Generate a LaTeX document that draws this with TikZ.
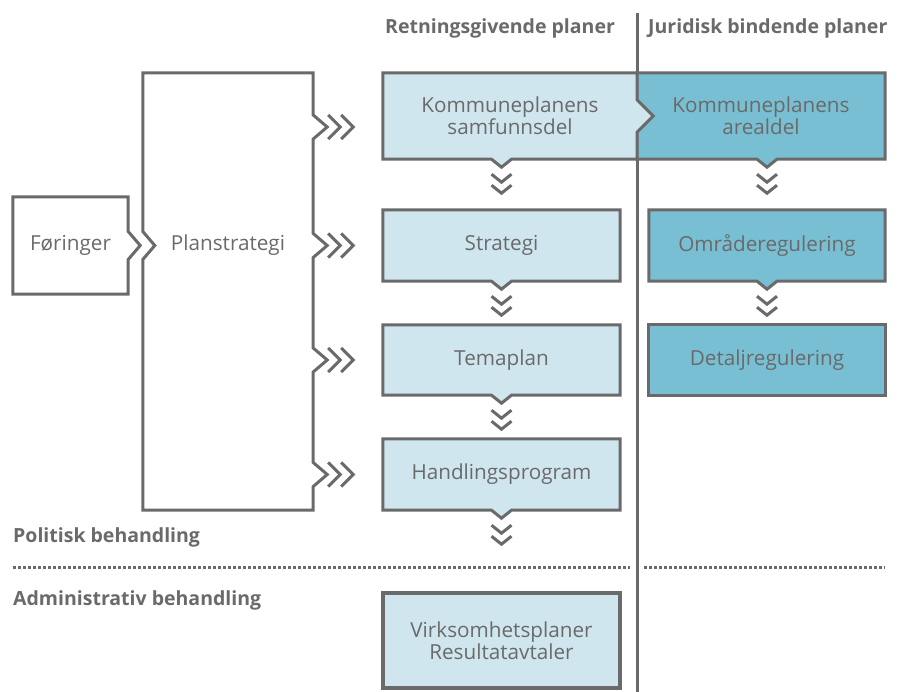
\documentclass[tikz,border=0pt]{standalone}
\usepackage{fontspec}
\setmainfont{Open Sans}
\usetikzlibrary{calc,backgrounds}
\definecolor{gris}{HTML}{6A6A6A}
\definecolor{tekst}{HTML}{6A6A6A}
\definecolor{lys}{HTML}{CFE6EE}
\definecolor{mork}{HTML}{78BFD3}

\tikzset{
  boks/.style={inner sep=0pt, minimum width=237pt, minimum height=71pt,
    align=center, text=tekst, font=\fontsize{20.7}{22}\selectfont},
  overskrift/.style={inner sep=0pt, text=tekst,
    font=\fontsize{19.5}{22}\selectfont\bfseries},
  kant/.style={draw=gris, line width=3pt},
  pil/.style={draw=gris, line width=3pt},
  prikk/.style={draw=gris, line width=3pt, dash pattern=on 3pt off 2pt}
}

% Boks med spiss nederst.
\newcommand{\vboks}[2]{%
  \draw[kant, fill=#2] (#1.north west) -- (#1.north east) -- (#1.south east)
    -- ([xshift=10pt]#1.south) -- ([yshift=-8pt]#1.south)
    -- ([xshift=-10pt]#1.south) -- (#1.south west) -- cycle;}
% Piler.
\newcommand{\hoyrepil}[1]{%
  \foreach \d in {15,28}
    \draw[pil] ([xshift=\d pt, yshift=12pt]#1) -- ([xshift=\d pt+12pt]#1)
      -- ([xshift=\d pt, yshift=-12pt]#1);}
\newcommand{\nedpil}[1]{%
  \foreach \d in {15,26}
    \draw[pil] ([xshift=-10pt, yshift=-\d pt]#1) -- ([yshift=-\d pt-8pt]#1)
      -- ([xshift=10pt, yshift=-\d pt]#1);}

\begin{document}
\begin{tikzpicture}[x=1pt, y=-1pt]
  \useasboundingbox (0,0) rectangle (898,692);

  % Overskrifter.
  \node[overskrift, anchor=west] (retning) at (385,28) {Retningsgivende planer};
  \node[overskrift, anchor=west] (juridisk) at (648,28) {Juridisk bindende planer};
  \node[overskrift, anchor=west] (politisk) at (13,537) {Politisk behandling};
  \node[overskrift, anchor=west] (admin) at (13,600) {Administrativ behandling};

  % Bokser.
  \node[boks, minimum width=115pt, minimum height=97pt] (foringer) at (70.5,245.5) {Føringer};
  \node[boks, minimum width=170pt, minimum height=437pt] (planstrategi) at (228,291.5) {};
  \node[boks] (planstrategitekst) at (planstrategi |- foringer) {Planstrategi};
  \node[boks, minimum width=254pt, minimum height=86pt] (samfunnsdel) at (510,116)
    {Kommuneplanens\\samfunnsdel};
  \node[boks, minimum width=248pt, minimum height=86pt] (arealdel) at (761,116)
    {Kommuneplanens\\arealdel};
  \node[boks] (strategi) at (501.5,245.5) {Strategi};
  \node[boks, minimum height=70pt] (temaplan) at (501.5,360) {Temaplan};
  \node[boks] (handling) at (501.5,474.5) {Handlingsprogram};
  \node[boks, minimum width=236pt] (omrade) at (767,245.5) {Områderegulering};
  \node[boks, minimum width=236pt, minimum height=70pt] (detalj) at (767,360) {Detaljregulering};
  \node[boks, minimum height=95pt, fill=lys, draw=gris, line width=4pt] (virksomhet)
    at (501.5,640.5) {Virksomhetsplaner\\Resultatavtaler};

  \coordinate (v1) at (planstrategi.west |- foringer);
  \coordinate (s1) at ($(planstrategi.east |- samfunnsdel)+(0,11)$);
  \coordinate (s2) at (planstrategi.east |- strategi);
  \coordinate (s3) at (planstrategi.east |- temaplan);
  \coordinate (s4) at (planstrategi.east |- handling);
  \coordinate (n1) at (strategi.north |- samfunnsdel.south);
  \coordinate (n2) at (omrade.north |- arealdel.south);

  \begin{scope}[on background layer]
    % Skillelinjer.
    \draw[kant] (637,13) -- (637,692);
    \draw[prikk] (13,568) -- (630,568);
    \draw[prikk] (644,568) -- (885,568);

    % Venstre.
    \draw[kant] (foringer.north west) -- (foringer.north east)
      -- ([yshift=14pt]foringer.east) -- ([xshift=12pt]foringer.east)
      -- ([yshift=-14pt]foringer.east) -- (foringer.south east)
      -- (foringer.south west) -- cycle;
    \draw[kant] (planstrategi.north west) -- (planstrategi.north east)
      -- ([yshift=12pt]s1) -- ([xshift=14pt]s1) -- ([yshift=-12pt]s1)
      -- ([yshift=12pt]s2) -- ([xshift=14pt]s2) -- ([yshift=-12pt]s2)
      -- ([yshift=12pt]s3) -- ([xshift=14pt]s3) -- ([yshift=-12pt]s3)
      -- ([yshift=12pt]s4) -- ([xshift=14pt]s4) -- ([yshift=-12pt]s4)
      -- (planstrategi.south east) -- (planstrategi.south west)
      -- ([yshift=-14pt]v1) -- ([xshift=12pt]v1) -- ([yshift=14pt]v1) -- cycle;

    % Kommuneplanen.
    \draw[kant, fill=mork] (arealdel.north west) -- (arealdel.north east)
      -- (arealdel.south east) -- ([xshift=10pt]n2) -- ([yshift=-8pt]n2)
      -- ([xshift=-10pt]n2) -- (arealdel.south west) -- cycle;
    \draw[kant, fill=lys] (samfunnsdel.north west) -- (samfunnsdel.north east)
      -- ([yshift=16pt]samfunnsdel.east) -- ([xshift=16pt]samfunnsdel.east)
      -- ([yshift=-16pt]samfunnsdel.east) -- (samfunnsdel.south east)
      -- ([xshift=10pt]n1) -- ([yshift=-8pt]n1) -- ([xshift=-10pt]n1)
      -- (samfunnsdel.south west) -- cycle;

    % Under.
    \vboks{strategi}{lys}
    \vboks{temaplan}{lys}
    \vboks{handling}{lys}
    \vboks{omrade}{mork}
    \draw[kant, fill=mork] (detalj.north west) rectangle (detalj.south east);
  \end{scope}

  % Piler.
  \hoyrepil{s1}
  \hoyrepil{s2}
  \hoyrepil{s3}
  \hoyrepil{s4}
  \nedpil{n1}
  \nedpil{n2}
  \nedpil{strategi.south}
  \nedpil{temaplan.south}
  \nedpil{handling.south}
  \nedpil{omrade.south}
\end{tikzpicture}
\end{document}
